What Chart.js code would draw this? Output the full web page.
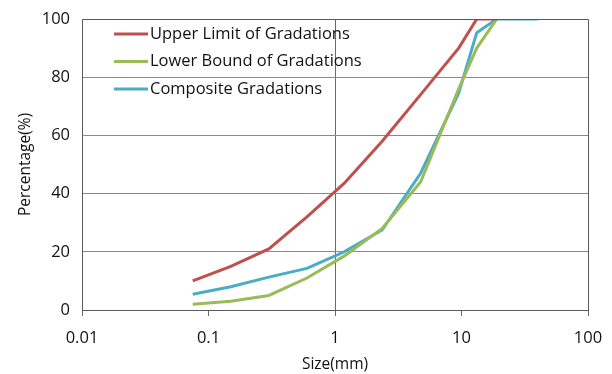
<!DOCTYPE html>
<html>
<head>
<meta charset="utf-8">
<script src="https://cdn.jsdelivr.net/npm/chart.js@4/dist/chart.umd.min.js"></script>
<style>
  html, body { margin: 0; padding: 0; background: #fff; }
  #wrap { width: 612px; height: 374px; position: relative; }
</style>
</head>
<body>
<div id="wrap"><canvas id="c" width="612" height="374"></canvas></div>
<script>
const seriesNames = ["Upper Limit of Gradations", "Lower Bound of Gradations", "Composite Gradations"];
const upperSizes = [0.075, 0.15, 0.3, 0.6, 1.18, 2.36, 4.75, 9.5, 13.2, 16, 19];
const upperValues = [10, 15, 21, 32, 43.5, 58, 74, 90, 100, 100, 100];
const lowerSizes = [0.075, 0.15, 0.3, 0.6, 1.18, 2.36, 4.75, 9.5, 13.2, 19];
const lowerValues = [2, 3, 5, 11, 18.5, 28, 44, 76, 90, 100];
const compSizes = [0.075, 0.15, 0.3, 0.6, 1.18, 2.36, 4.75, 9.5, 13.2, 19, 40];
const compValues = [5.4, 8, 11.3, 14.3, 20, 27.5, 47, 74.5, 95.3, 100, 100];
const xTicks = [0.01, 0.1, 1, 10, 100];
const yTicks = [0, 20, 40, 60, 80, 100];
const colors = ["#C0504D", "#9BBB59", "#4BACC6"];

const toPts = (xs, ys) => xs.map((x, i) => ({x: x, y: ys[i]}));
const FONT = '"Open Sans", sans-serif';

const boxPlugin = {
  id: 'box',
  afterDraw(chart) {
    const a = chart.chartArea, ctx = chart.ctx;
    ctx.save();
    ctx.strokeStyle = '#5a5a5a';
    ctx.lineWidth = 1;
    ctx.beginPath();
    ctx.moveTo(Math.round(a.left) + 0.5, Math.round(a.bottom) + 0.5);
    ctx.lineTo(Math.round(a.left) + 0.5, Math.round(a.top) + 0.5);
    ctx.lineTo(Math.round(a.right) + 0.5, Math.round(a.top) + 0.5);
    ctx.lineTo(Math.round(a.right) + 0.5, Math.round(a.bottom) + 0.5);
    ctx.stroke();
    ctx.restore();
  }
};

const legendPlugin = {
  id: 'inlegend',
  afterDraw(chart) {
    const a = chart.chartArea, ctx = chart.ctx;
    ctx.save();
    ctx.font = '16.5px ' + FONT;
    ctx.textBaseline = 'middle';
    seriesNames.forEach((n, i) => {
      const y = a.top + 15 + i * 27.5;
      ctx.strokeStyle = colors[i];
      ctx.lineWidth = 3;
      ctx.beginPath();
      ctx.moveTo(a.left + 32, y);
      ctx.lineTo(a.left + 66, y);
      ctx.stroke();
      ctx.fillStyle = '#111';
      ctx.fillText(n, a.left + 68, y);
    });
    ctx.restore();
  }
};

new Chart(document.getElementById('c'), {
  type: 'line',
  data: {
    datasets: [
      {label: seriesNames[0], data: toPts(upperSizes, upperValues), borderColor: colors[0]},
      {label: seriesNames[1], data: toPts(lowerSizes, lowerValues), borderColor: colors[1]},
      {label: seriesNames[2], data: toPts(compSizes, compValues), borderColor: colors[2]}
    ].map(d => Object.assign(d, {borderWidth: 3, pointRadius: 0, tension: 0, fill: false}))
  },
  options: {
    responsive: false,
    animation: false,
    layout: {padding: {left: 0, right: 24, top: 19, bottom: 0}},
    plugins: {legend: {display: false}, tooltip: {enabled: false}},
    scales: {
      x: {
        type: 'logarithmic',
        min: 0.01, max: 100,
        afterBuildTicks: s => { s.ticks = xTicks.map(v => ({value: v})); },
        afterFit: s => { s.height = 64; s.paddingLeft = 0; s.paddingRight = 0; },
        ticks: {
          color: '#111',
          font: {family: FONT, size: 16.5},
          padding: 12,
          maxRotation: 0,
          autoSkip: false,
          callback: v => String(v)
        },
        grid: {
          color: c => (c.tick && c.tick.value === 1) ? '#6a6a6a' : 'rgba(0,0,0,0)',
          tickColor: '#6a6a6a',
          tickLength: 6,
          drawTicks: true
        },
        border: {display: true, color: '#5a5a5a', width: 1},
        title: {
          display: true, text: 'Size(mm)', color: '#111',
          font: {family: FONT, size: 15.5},
          padding: {top: 0, bottom: 0}
        }
      },
      y: {
        min: 0, max: 100,
        afterBuildTicks: s => { s.ticks = yTicks.map(v => ({value: v})); },
        afterFit: s => { s.width = 82; s.paddingTop = 0; s.paddingBottom = 0; },
        ticks: {
          color: '#111',
          font: {family: FONT, size: 16.5},
          padding: 12
        },
        grid: {
          color: c => (c.tick && c.tick.value > 0 && c.tick.value < 100) ? '#8a8a8a' : 'rgba(0,0,0,0)',
          drawTicks: false
        },
        border: {display: false},
        title: {
          display: true, text: 'Percentage(%)', color: '#111',
          font: {family: FONT, size: 15.5},
          padding: {top: 16, bottom: 0}
        }
      }
    }
  },
  plugins: [boxPlugin, legendPlugin]
});
</script>
</body>
</html>
